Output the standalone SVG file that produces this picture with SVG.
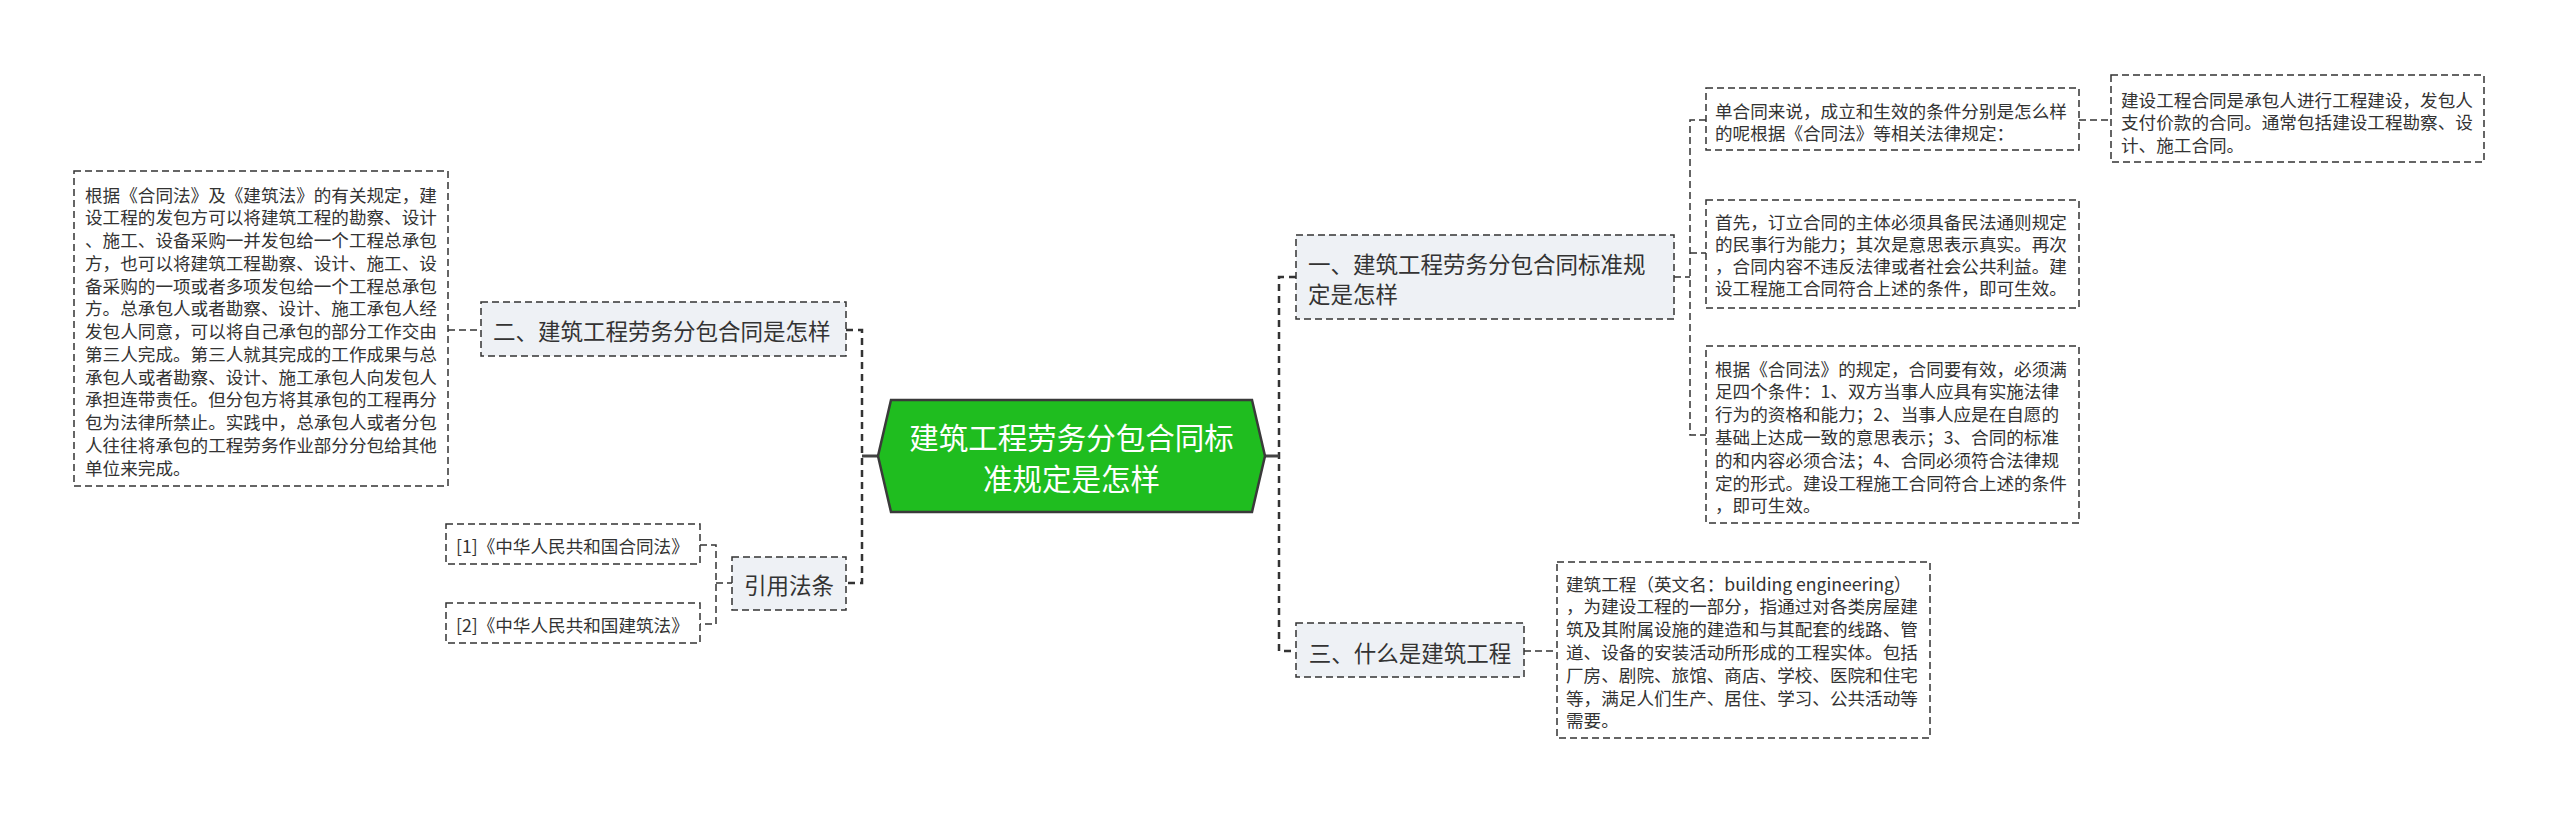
<svg xmlns="http://www.w3.org/2000/svg" width="2560" height="815" viewBox="0 0 2560 815">
<style>
text{font-family:"Noto Sans CJK SC","Microsoft YaHei",sans-serif;fill:#333;dominant-baseline:central}
.leaf{fill:#fff;stroke:#333;stroke-width:1.5;stroke-dasharray:7 4}
.topic{fill:#eef1f5;stroke:#333;stroke-width:1.5;stroke-dasharray:7 4}
.conn{fill:none;stroke:#333;stroke-width:1.5;stroke-dasharray:7 4}
.trunk{fill:none;stroke:#333;stroke-width:2.5;stroke-dasharray:7 5}
.stub{fill:none;stroke:#444;stroke-width:3}
.s{font-size:17.6px}
.m{font-size:22.5px}
.c{font-size:29.5px;fill:#fff;text-anchor:middle}
</style>
<rect width="2560" height="815" fill="#fff"/>
<g id="connectors">
<path class="trunk" d="M846,330 H862 V583 H846"/>
<path class="stub" d="M862,456 H878"/>
<path class="trunk" d="M1296,277 H1279 V651 H1296"/>
<path class="stub" d="M1265,456 H1279"/>
<path class="conn" d="M448,330 H481"/>
<path class="conn" d="M700,545 H716 V624 H700 M716,583 H732"/>
<path class="conn" d="M1674,277 H1690 M1706,120 H1690 V435 H1706 M1690,253 H1706"/>
<path class="conn" d="M2079,120 H2111"/>
<path class="conn" d="M1524,651 H1557"/>
</g>
<g id="center">
<polygon points="878,456 891,400 1252,400 1265,456 1252,512 891,512" fill="#1fbd1f" stroke="#3a3a3a" stroke-width="2.5"/>
<text class="c" x="1071.5" y="435.5">建筑工程劳务分包合同标</text>
<text class="c" x="1071.5" y="477">准规定是怎样</text>
</g>
<g id="node-er">
<rect class="topic" x="481" y="302" width="365" height="54"/>
<text class="m" x="493" y="330">二、建筑工程劳务分包合同是怎样</text>
</g>
<g id="leaf-er">
<rect class="leaf" x="74" y="171" width="374" height="315"/>
<text class="s" x="85" y="194">根据《合同法》及《建筑法》的有关规定，建</text>
<text class="s" x="85" y="216.75">设工程的发包方可以将建筑工程的勘察、设计</text>
<text class="s" x="85" y="239.5">、施工、设备采购一并发包给一个工程总承包</text>
<text class="s" x="85" y="262.25">方，也可以将建筑工程勘察、设计、施工、设</text>
<text class="s" x="85" y="285">备采购的一项或者多项发包给一个工程总承包</text>
<text class="s" x="85" y="307.75">方。总承包人或者勘察、设计、施工承包人经</text>
<text class="s" x="85" y="330.5">发包人同意，可以将自己承包的部分工作交由</text>
<text class="s" x="85" y="353.25">第三人完成。第三人就其完成的工作成果与总</text>
<text class="s" x="85" y="376">承包人或者勘察、设计、施工承包人向发包人</text>
<text class="s" x="85" y="398.75">承担连带责任。但分包方将其承包的工程再分</text>
<text class="s" x="85" y="421.5">包为法律所禁止。实践中，总承包人或者分包</text>
<text class="s" x="85" y="444.25">人往往将承包的工程劳务作业部分分包给其他</text>
<text class="s" x="85" y="467">单位来完成。</text>
</g>
<g id="node-yinyong">
<rect class="topic" x="732" y="557" width="114" height="53"/>
<text class="m" x="789" y="583.5" text-anchor="middle">引用法条</text>
</g>
<g id="ref-1">
<rect class="leaf" x="446" y="524" width="254" height="40"/>
<text class="s" x="456" y="545">[1]《中华人民共和国合同法》</text>
</g>
<g id="ref-2">
<rect class="leaf" x="446" y="603" width="254" height="40"/>
<text class="s" x="456" y="624">[2]《中华人民共和国建筑法》</text>
</g>
<g id="node-yi">
<rect class="topic" x="1296" y="235" width="378" height="84"/>
<text class="m" x="1308" y="263">一、建筑工程劳务分包合同标准规</text>
<text class="m" x="1308" y="293">定是怎样</text>
</g>
<g id="leaf-yi-1">
<rect class="leaf" x="1706" y="88" width="373" height="62"/>
<text class="s" x="1715" y="110">单合同来说，成立和生效的条件分别是怎么样</text>
<text class="s" x="1715" y="132">的呢根据《合同法》等相关法律规定：</text>
</g>
<g id="leaf-yi-1-1">
<rect class="leaf" x="2111" y="75" width="373" height="87"/>
<text class="s" x="2121" y="99">建设工程合同是承包人进行工程建设，发包人</text>
<text class="s" x="2121" y="121.5">支付价款的合同。通常包括建设工程勘察、设</text>
<text class="s" x="2121" y="144">计、施工合同。</text>
</g>
<g id="leaf-yi-2">
<rect class="leaf" x="1706" y="200" width="373" height="108"/>
<text class="s" x="1715" y="221">首先，订立合同的主体必须具备民法通则规定</text>
<text class="s" x="1715" y="243.2">的民事行为能力；其次是意思表示真实。再次</text>
<text class="s" x="1715" y="265.4">，合同内容不违反法律或者社会公共利益。建</text>
<text class="s" x="1715" y="287.6">设工程施工合同符合上述的条件，即可生效。</text>
</g>
<g id="leaf-yi-3">
<rect class="leaf" x="1706" y="346" width="373" height="177"/>
<text class="s" x="1715" y="368">根据《合同法》的规定，合同要有效，必须满</text>
<text class="s" x="1715" y="390.8">足四个条件：1、双方当事人应具有实施法律</text>
<text class="s" x="1715" y="413.6">行为的资格和能力；2、当事人应是在自愿的</text>
<text class="s" x="1715" y="436.4">基础上达成一致的意思表示；3、合同的标准</text>
<text class="s" x="1715" y="459.2">的和内容必须合法；4、合同必须符合法律规</text>
<text class="s" x="1715" y="482">定的形式。建设工程施工合同符合上述的条件</text>
<text class="s" x="1715" y="504.8">，即可生效。</text>
</g>
<g id="node-san">
<rect class="topic" x="1296" y="623" width="228" height="54"/>
<text class="m" x="1410" y="651.5" text-anchor="middle">三、什么是建筑工程</text>
</g>
<g id="leaf-san">
<rect class="leaf" x="1557" y="562" width="373" height="176"/>
<text class="s" x="1566" y="583">建筑工程（英文名：building engineering）</text>
<text class="s" x="1566" y="605.8">，为建设工程的一部分，指通过对各类房屋建</text>
<text class="s" x="1566" y="628.6">筑及其附属设施的建造和与其配套的线路、管</text>
<text class="s" x="1566" y="651.4">道、设备的安装活动所形成的工程实体。包括</text>
<text class="s" x="1566" y="674.2">厂房、剧院、旅馆、商店、学校、医院和住宅</text>
<text class="s" x="1566" y="697">等，满足人们生产、居住、学习、公共活动等</text>
<text class="s" x="1566" y="719.8">需要。</text>
</g>
</svg>
